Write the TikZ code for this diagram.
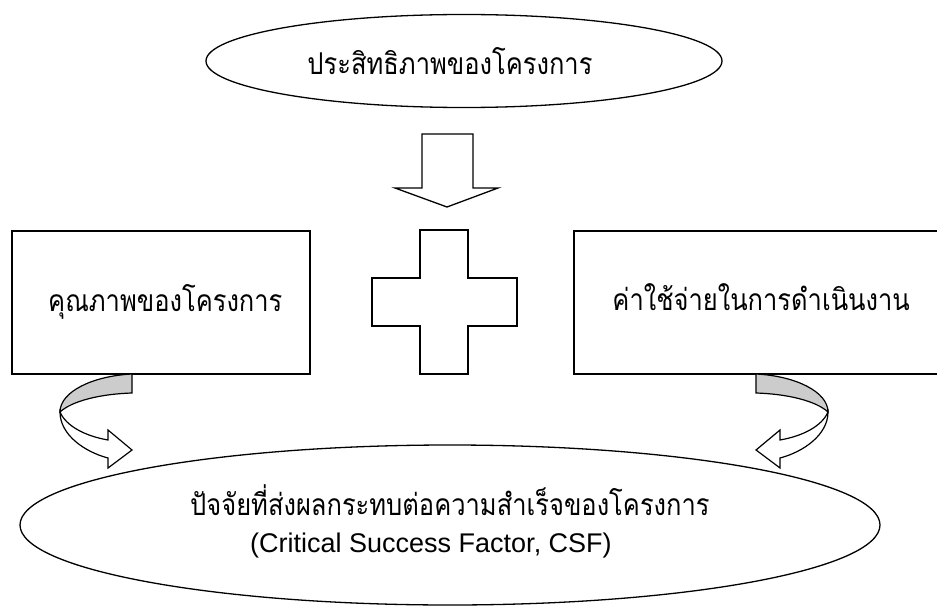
\documentclass[tikz,border=0pt]{standalone}
\usepackage{fontspec}
\setmainfont{Liberation Sans}
\newfontfamily\thaifont[Script=Thai, FakeStretch=0.85]{Loma}
\usetikzlibrary{shapes.geometric}
\begin{document}
\begin{tikzpicture}[x=1pt,y=-1pt]
\tikzset{
  oval/.style={ellipse, draw=black, line width=1.3pt, inner sep=0pt},
  boxnode/.style={rectangle, draw=black, line width=1.3pt, inner sep=0pt},
  shp/.style={draw=black, fill=white, line width=1.3pt, line join=miter},
  ribbonback/.style={draw=black, fill=black!20, line width=1.2pt},
  ribbonfront/.style={draw=black, fill=white, line width=1.2pt, line join=miter},
  thai/.style={font=\thaifont\fontsize{30}{34}\selectfont, inner sep=0pt},
  latin/.style={font=\fontsize{27}{31}\selectfont, inner sep=0pt},
}
\useasboundingbox (0,0) rectangle (937,607);
% top ellipse
\node[oval, minimum width=516pt, minimum height=93pt] (top) at (464,61) {};
\node[thai, anchor=base] (toptext) at (450,75) {ประสิทธิภาพของโครงการ};
% block arrow down
\draw[shp] (422,134) -- (473,134) -- (473,188) -- (498,188) -- (447,207) -- (395,188) -- (422,188) -- cycle;
% boxes
\node[boxnode, minimum width=298pt, minimum height=143pt] (lbox) at (161,302.5) {};
\node[thai, anchor=base west] (ltext) at (48,311) {คุณภาพของโครงการ};
\node[boxnode, minimum width=372pt, minimum height=143pt] (rbox) at (760,302.5) {};
\node[thai, anchor=base east] (rtext) at (910,310) {ค่าใช้จ่ายในการดำเนินงาน};
% plus
\draw[shp] (420,230) -- (468,230) -- (468,278) -- (517,278) -- (517,326) -- (468,326) -- (468,374) -- (420,374) -- (420,326) -- (372,326) -- (372,278) -- (420,278) -- cycle;
% bottom ellipse
\node[oval, minimum width=860pt, minimum height=160pt] (bot) at (450,525) {};
\node[thai, anchor=base west] (btext1) at (190,515) {ปัจจัยที่ส่งผลกระทบต่อความสำเร็จของโครงการ};
\node[latin, anchor=base west] (btext2) at (250,552) {(Critical Success Factor, CSF)};
% left curved arrow
\draw[ribbonback] (132,374) .. controls (92,376) and (60,392) .. (60,412) .. controls (72,401) and (100,394) .. (132,393) -- cycle;
\draw[ribbonfront] (60,412) .. controls (60,435) and (85,452) .. (108,458) -- (108,468) -- (132,450) -- (108,430) -- (108,440) .. controls (85,436) and (66,426) .. (60,412) -- cycle;
% right curved arrow (mirror about x=444)
\draw[ribbonback] (756,374) .. controls (796,376) and (828,392) .. (828,412) .. controls (816,401) and (788,394) .. (756,393) -- cycle;
\draw[ribbonfront] (828,412) .. controls (828,435) and (803,452) .. (780,458) -- (780,468) -- (756,450) -- (780,430) -- (780,440) .. controls (803,436) and (822,426) .. (828,412) -- cycle;
\end{tikzpicture}
\end{document}
